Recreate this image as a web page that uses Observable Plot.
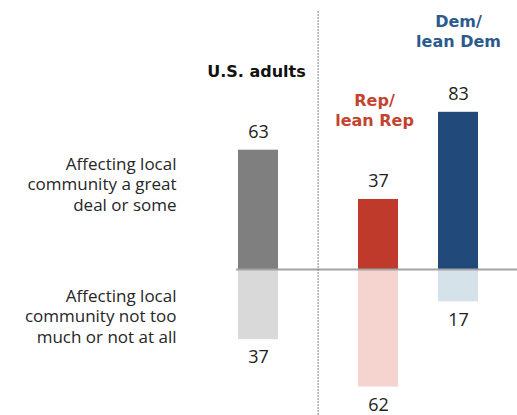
<!DOCTYPE html>
<html>
<head>
<meta charset="utf-8">
<script src="https://cdn.jsdelivr.net/npm/d3@7"></script>
<script src="https://cdn.jsdelivr.net/npm/@observablehq/plot@0.6"></script>
<style>
  html, body { margin: 0; padding: 0; background: #fff; }
  #chart svg { display: block; }
</style>
</head>
<body>
<div id="chart"></div>
<script>
// Share saying the issue is affecting their local community
const groups = ["U.S. adults", "Rep/lean Rep", "Dem/lean Dem"];
const groupTitles = ["U.S. adults", "Rep/\nlean Rep", "Dem/\nlean Dem"];
const affecting = [63, 37, 83];
const notAffecting = [37, 62, 17];
const rowLabels = [
  "Affecting local\ncommunity a great\ndeal or some",
  "Affecting local\ncommunity not too\nmuch or not at all"
];

// Styling per group (strong shade above the baseline, pale shade below)
const strong = ["#7f7f7f", "#bf3a2b", "#214a7b"];
const pale = ["#d9d9d9", "#f5d4d0", "#d6e2ea"];
const titleColors = ["#111111", "#c4432f", "#2c5a8c"];
const titleOffsets = [70, 109, 30];
const titleDx = [-2, -4, 0];

const table = [
  ...groups.map((g, i) => ({group: g, value: affecting[i], fill: strong[i]})),
  ...groups.map((g, i) => ({group: g, value: -notAffecting[i], fill: pale[i]}))
];
const titles = groups.map((g, i) => ({group: g, title: groupTitles[i], color: titleColors[i], off: titleOffsets[i], dx: titleDx[i]}));

// Band slots: empty slots open the gap around the divider
const xDomain = ["U.S. adults", "s1", "s2", "Rep/lean Rep", "s3", "Dem/lean Dem"];
const xRange = [236, 480];
const band = (xRange[1] - xRange[0]) / xDomain.length;

const marks = [
  Plot.barY(table, {x: "group", y: "value", fill: "fill"}),
  Plot.ruleY([0], {stroke: "#a3a3a3", strokeWidth: 2}),
  Plot.ruleX(["s2"], {dx: -band / 2, y1: 136, y2: -77, stroke: "#808080", strokeWidth: 1.3, strokeDasharray: "1.3,1.7"}),
  Plot.text(table.filter(d => d.value > 0), {x: "group", y: "value", text: d => String(d.value), dy: -18, fontSize: 18, fill: "#222"}),
  Plot.text(table.filter(d => d.value < 0), {x: "group", y: "value", text: d => String(-d.value), dy: 18, fontSize: 18, fill: "#222"})
];

titles.forEach(t => {
  marks.push(Plot.text([t], {
    x: "group", text: "title", frameAnchor: "top", lineAnchor: "middle",
    dy: t.off, dx: t.dx, fill: t.color, fontFamily: "'DejaVu Sans', sans-serif",
    fontWeight: "bold", fontSize: 16, lineHeight: 1.25
  }));
});

rowLabels.forEach((label, i) => {
  marks.push(Plot.text([label], {
    text: d => d, y: 0, frameAnchor: "left", textAnchor: "end", lineAnchor: "middle",
    dx: -60, dy: i === 0 ? -86 : 46, fontSize: 17, lineHeight: 1.2, fill: "#262626"
  }));
});

const chart = Plot.plot({
  width: 517,
  height: 415,
  marginLeft: 236,
  marginRight: 0,
  marginTop: 0,
  marginBottom: 0,
  style: {fontFamily: "'Open Sans', sans-serif", background: "#fff"},
  x: {type: "band", domain: xDomain, range: xRange, padding: 0, axis: null},
  y: {domain: [-77, 142], range: [415, 0], axis: null},
  color: {type: "identity"},
  marks
});
document.getElementById("chart").appendChild(chart);
</script>
</body>
</html>
